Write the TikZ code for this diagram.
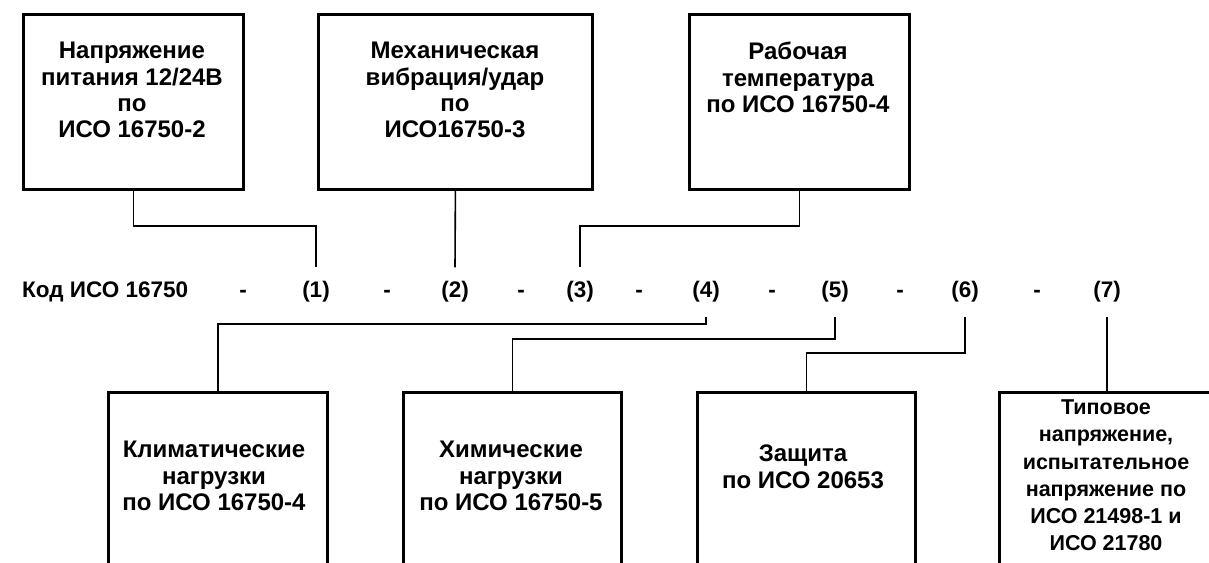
\documentclass[tikz,border=0pt]{standalone}
\usepackage{fontspec}
\setmainfont{Liberation Sans}
\begin{document}
\begin{tikzpicture}[x=1pt,y=-1pt,
  box/.style={draw, line width=2.8pt, inner sep=0pt, anchor=north west},
  txt/.style={align=center, inner sep=0pt, anchor=north, font=\fontsize{24}{26.3}\selectfont\bfseries},
  con/.style={line width=1.6pt},
  code/.style={font=\fontsize{22.5}{25}\selectfont\bfseries, inner sep=0pt},
  lbl/.style={code, inner ysep=14pt}]
\useasboundingbox (0,0) rectangle (1209,562);
\clip (0,0) rectangle (1209,562);
% top boxes
\node[box, minimum width=220pt, minimum height=175pt] (b1) at (22,13) {};
\node[box, minimum width=274pt, minimum height=175pt] (b2) at (317,13) {};
\node[box, minimum width=220pt, minimum height=175pt] (b3) at (688,13) {};
\node[txt] (b1t) at (132,42) {Напряжение\\питания 12/24В\\по\\ИСО 16750-2};
\node[txt] (b2t) at (455,42) {Механическая\\вибрация/удар\\по\\ИСО16750-3};
\node[txt] (b3t) at (798,42) {Рабочая\\температура\\по ИСО 16750-4};
% bottom boxes
\node[box, minimum width=219pt, minimum height=200pt] (d1) at (107,391) {};
\node[box, minimum width=218pt, minimum height=200pt] (d2) at (402,391) {};
\node[box, minimum width=218pt, minimum height=200pt] (d3) at (696,391) {};
\node[box, minimum width=220pt, minimum height=200pt] (d4) at (998,391) {};
\node[txt] (d1t) at (214,441) {Климатические\\нагрузки\\по ИСО 16750-4};
\node[txt] (d2t) at (511,441) {Химические\\нагрузки\\по ИСО 16750-5};
\node[txt] (d3t) at (803,445) {Защита\\по ИСО 20653};
\node[txt, font=\fontsize{21.5}{27}\selectfont\bfseries] (d4t) at (1106,400) {Типовое\\напряжение,\\испытательное\\напряжение по\\ИСО 21498-1 и\\ИСО 21780};
% code row
\node[code, anchor=west] (kod) at (22,292) {Код ИСО 16750};
\node[code] (m1) at (243,294) {-};
\node[code] (m2) at (387,294) {-};
\node[code] (m3) at (521,294) {-};
\node[code] (m4) at (639,294) {-};
\node[code] (m5) at (772,294) {-};
\node[code] (m6) at (900,294) {-};
\node[code] (m7) at (1037,294) {-};
\node[lbl] (l1) at (316,292) {(1)};
\node[lbl] (l2) at (455,292) {(2)};
\node[lbl] (l3) at (580,292) {(3)};
\node[lbl] (l4) at (706,292) {(4)};
\node[lbl] (l5) at (835,292) {(5)};
\node[lbl] (l6) at (965,292) {(6)};
\node[lbl] (l7) at (1107,292) {(7)};
% connectors top
\draw[con] (b1.south) |- (l1.north |- 0,226) -- (l1.north);
\draw[con] (b2.south) -- (l2.north);
\draw[con] (b3.south) |- (l3.north |- 0,226) -- (l3.north);
% connectors bottom
\draw[con] (l4.south) |- (d1.north |- 0,324) -- (d1.north);
\draw[con] (l5.south) |- (d2.north |- 0,339) -- (d2.north);
\draw[con] (l6.south) |- (d3.north |- 0,353) -- (d3.north);
\draw[con] (l7.south) -- (l7.south |- d4.north);
\end{tikzpicture}
\end{document}
